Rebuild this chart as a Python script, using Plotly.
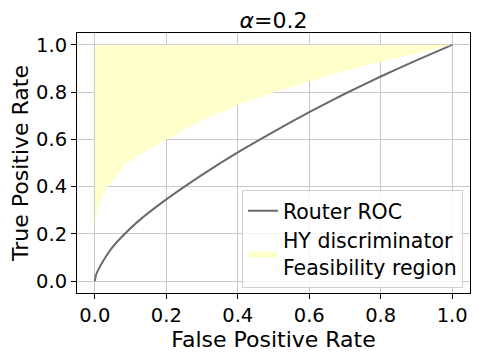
import plotly.graph_objects as go

# Router ROC curve
roc_fpr = [0, 0.003, 0.01, 0.025, 0.05, 0.077, 0.12, 0.2, 0.3, 0.4, 0.5, 0.6, 0.7, 0.8, 0.9, 1.0]
roc_tpr = [0, 0.025, 0.05, 0.09, 0.145, 0.19, 0.252, 0.346, 0.45, 0.545, 0.632, 0.715, 0.793, 0.866, 0.934, 1.0]

# lower edge of the HY discriminator feasibility region
feas_fpr = [0, 0.005, 0.01, 0.02, 0.035, 0.06, 0.082, 0.12, 0.2, 0.3, 0.4, 0.5, 0.6, 0.7, 0.8, 0.9, 1.0]
feas_tpr = [0.21, 0.285, 0.315, 0.355, 0.40, 0.445, 0.49, 0.53, 0.60, 0.68, 0.745, 0.798, 0.845, 0.889, 0.927, 0.965, 1.0]

x_ticks = [0.0, 0.2, 0.4, 0.6, 0.8, 1.0]
tick_text = ["0.0", "0.2", "0.4", "0.6", "0.8", "1.0"]

# the page body adds an 8px margin, so the figure is drawn 8px smaller
W, H = 471, 350

fig = go.Figure()

fig.add_trace(go.Scatter(
    x=roc_fpr, y=roc_tpr, mode="lines", name="Router ROC",
    line=dict(color="#6a6a6a", width=2, shape="spline", smoothing=0.6),
))

# polygon: lower edge, then back along the top (TPR = 1)
poly_x = feas_fpr + feas_fpr[::-1]
poly_y = feas_tpr + [1.0] * len(feas_fpr)
fig.add_trace(go.Scatter(
    x=poly_x, y=poly_y, mode="lines", fill="toself",
    fillcolor="rgb(255,255,204)", line=dict(width=0),
    name="HY discriminator<br>Feasibility region",
))

axis_common = dict(
    range=[-0.05, 1.05], tickvals=x_ticks, ticktext=tick_text,
    showgrid=True, gridcolor="#c8c8c8", gridwidth=1,
    showline=True, linecolor="black", linewidth=1, mirror=True,
    ticks="outside", ticklen=5, tickcolor="black",
    tickfont=dict(size=19.5, color="black"), zeroline=False, automargin=False,
)

fig.update_xaxes(**axis_common, title=dict(text="False Positive Rate", font=dict(size=22, color="black"), standoff=4))
fig.update_yaxes(**axis_common, title=dict(text="True Positive Rate", font=dict(size=22, color="black"), standoff=4))

fig.update_layout(
    width=W, height=H,
    margin=dict(l=69, r=9, t=25, b=65),
    paper_bgcolor="white", plot_bgcolor="white",
    font=dict(family="DejaVu Sans", color="black"),
    title=dict(text="<i>α</i>=0.2", x=(69 + 462) / 2 / W, xanchor="center", y=1 - 12 / H, yanchor="middle",
               font=dict(size=22, color="black")),
    legend=dict(
        x=0.982, y=0.02, xanchor="right", yanchor="bottom",
        bgcolor="rgba(255,255,255,0.8)", bordercolor="#d0d0d0", borderwidth=1,
        font=dict(size=20.5, color="black"), itemwidth=30, tracegroupgap=4,
    ),
)

fig.write_html("out.html")
